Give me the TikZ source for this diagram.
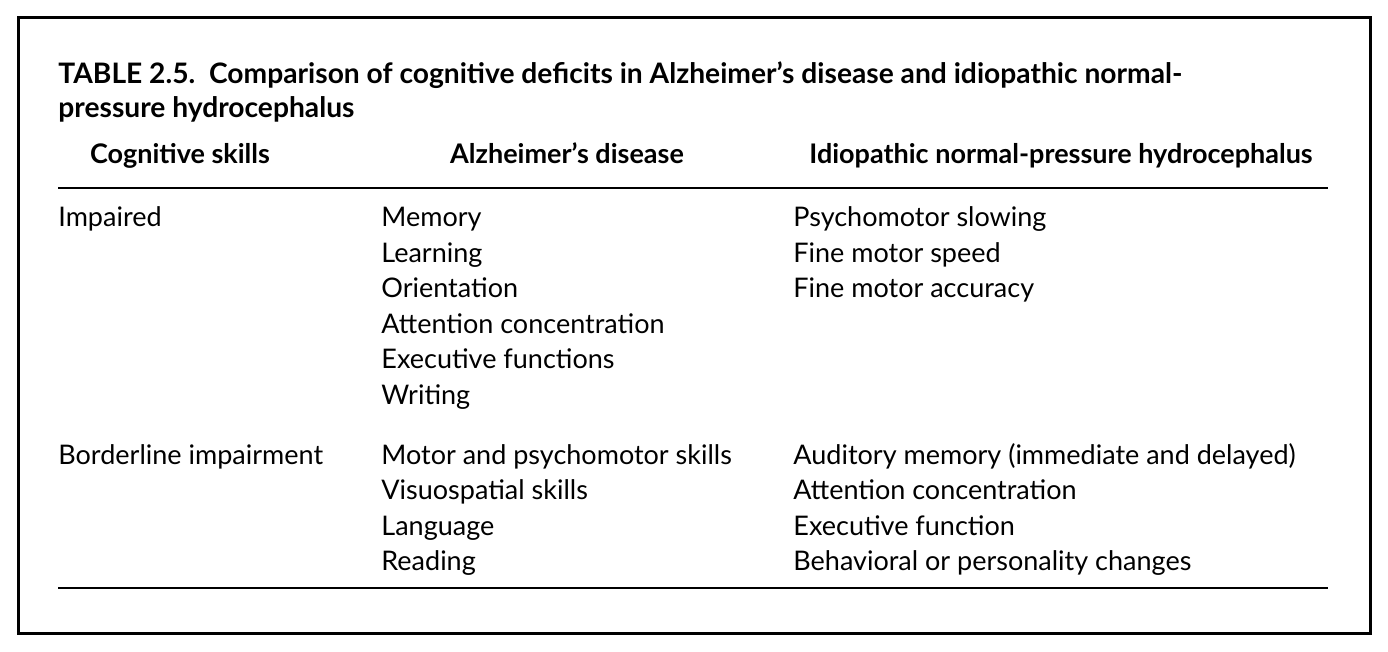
\documentclass[tikz,border=0pt]{standalone}
\usepackage{fontspec}
\setmainfont{Lato}
\begin{document}
\begin{tikzpicture}[x=0.5pt,y=-0.5pt,
  txt/.style={anchor=base west,inner sep=0pt,font=\fontsize{13.5}{15}\selectfont},
  ttl/.style={anchor=base west,inner sep=0pt,font=\fontsize{14.1}{15}\selectfont\bfseries},
  hd/.style={anchor=base,inner sep=0pt,font=\fontsize{13.5}{15}\selectfont\bfseries}]
\useasboundingbox (0,0) rectangle (1388,652);
\draw[line width=1.5pt] (18,18) rectangle (1370,633);
\node[ttl] (t1) at (58,84) {TABLE 2.5.\ \ Comparison of cognitive deficits in Alzheimer’s disease and idiopathic normal-};
\node[ttl] (t2) at (58,118) {pressure hydrocephalus};
\node[hd] (h1) at (180,164) {Cognitive skills};
\node[hd] (h2) at (567,164) {Alzheimer’s disease};
\node[hd] (h3) at (1061,164) {Idiopathic normal-pressure hydrocephalus};
\draw[line width=0.6pt] (58,188) -- (1328,188);
\draw[line width=0.6pt] (58,588) -- (1328,588);
\node[txt] (r1) at (58,227) {Impaired};
\foreach \t [count=\i from 0] in {Memory,Learning,Orientation,Attention concentration,Executive functions,Writing}
  \node[txt] (a\i) at (381,227+35.5*\i) {\t};
\foreach \t [count=\i from 0] in {Psychomotor slowing,Fine motor speed,Fine motor accuracy}
  \node[txt] (b\i) at (793,227+35.5*\i) {\t};
\node[txt] (r2) at (58,465) {Borderline impairment};
\foreach \t [count=\i from 0] in {Motor and psychomotor skills,Visuospatial skills,Language,Reading}
  \node[txt] (c\i) at (381,465+35*\i) {\t};
\foreach \t [count=\i from 0] in {Auditory memory (immediate and delayed),Attention concentration,Executive function,Behavioral or personality changes}
  \node[txt] (d\i) at (793,465+35*\i) {\t};
\end{tikzpicture}
\end{document}
